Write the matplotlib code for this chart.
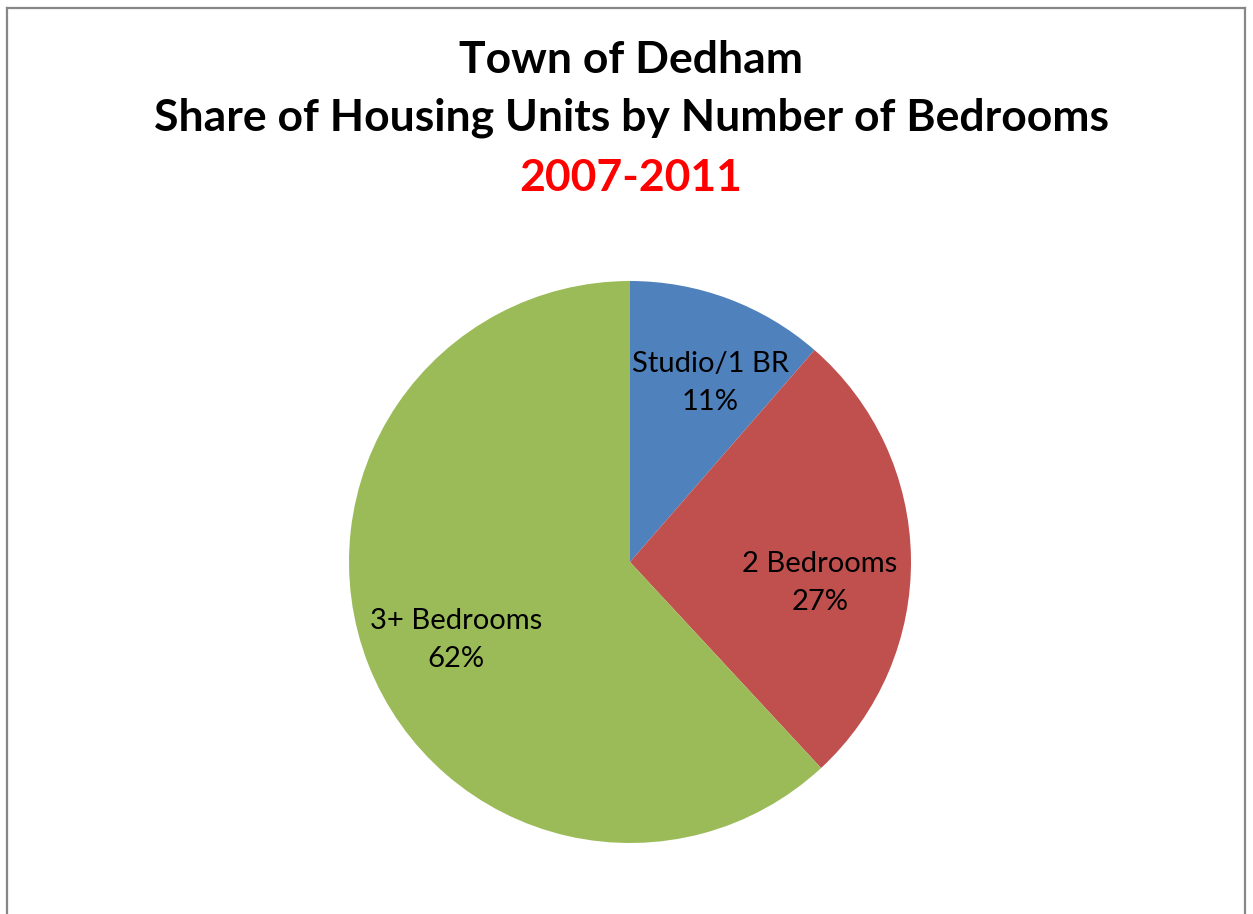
import matplotlib.pyplot as plt

categories = ["Studio/1 BR", "2 Bedrooms", "3+ Bedrooms"]
shares = [11.4, 26.7, 61.9]
colors = ["#4F81BD", "#C0504D", "#9BBB59"]
title_lines = ["Town of Dedham", "Share of Housing Units by Number of Bedrooms"]
period = "2007-2011"

W, H = 1253, 914
fig = plt.figure(figsize=(W / 100, H / 100), dpi=100)
fig.patch.set_facecolor("white")

# outer border (open at bottom)
for xs, ys in [([7, 7], [914, 8]), ([7, 1245], [8, 8]), ([1245, 1245], [8, 914])]:
    fig.add_artist(plt.Line2D([x / W for x in xs], [1 - y / H for y in ys],
                              color="#878787", lw=1.6, transform=fig.transFigure))

font = ["Lato", "DejaVu Sans"]
tfs = 32
fig.text(631 / W, 1 - 60 / H, title_lines[0], ha="center", va="center", fontsize=tfs, fontweight="bold", family=font)
fig.text(631 / W, 1 - 118 / H, title_lines[1], ha="center", va="center", fontsize=tfs, fontweight="bold", family=font)
fig.text(631 / W, 1 - 178 / H, period, ha="center", va="center", fontsize=tfs, fontweight="bold", color="#FF0000", family=font)

cx, cy, r = 630, 562, 281
ax = fig.add_axes([(cx - r) / W, 1 - (cy + r) / H, 2 * r / W, 2 * r / H])
wedges, _ = ax.pie(shares, colors=colors, startangle=90, counterclock=False,
                   wedgeprops=dict(linewidth=0))
ax.set_aspect("equal")
ax.set_xlim(-1, 1)
ax.set_ylim(-1, 1)
ax.axis("off")

label_pos = [(710, 383), (820, 583), (456, 640)]
for (x, y), name, v in zip(label_pos, categories, shares):
    fig.text(x / W, 1 - y / H, f"{name}\n{round(v):.0f}%", ha="center", va="center",
             fontsize=21, family=font, linespacing=1.55, color="black")

fig.savefig("out.png", dpi=100)
